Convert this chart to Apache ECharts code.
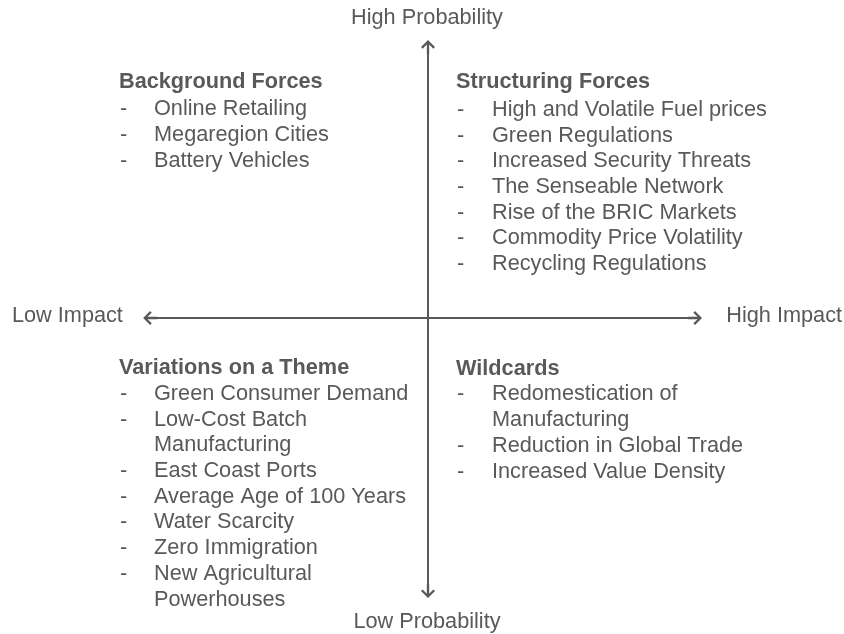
<!DOCTYPE html>
<html>
<head>
<meta charset="utf-8">
<script src="https://cdn.jsdelivr.net/npm/echarts@6/dist/echarts.min.js"></script>
<style>
    html, body { margin: 0; padding: 0; background: #fff; }
    #main { width: 844px; height: 634px; }
</style>
</head>
<body>
<div id="main"></div>
<script>
// axis end labels
var impactLabels = ['Low Impact', 'High Impact'];
var probabilityLabels = ['Low Probability', 'High Probability'];

// quadrant headings and items
var quadrantTitles = ['Background Forces', 'Structuring Forces', 'Variations on a Theme', 'Wildcards'];
var backgroundForces = ['Online Retailing', 'Megaregion Cities', 'Battery Vehicles'];
var structuringForces = ['High and Volatile Fuel prices', 'Green Regulations', 'Increased Security Threats',
    'The Senseable Network', 'Rise of the BRIC Markets', 'Commodity Price Volatility', 'Recycling Regulations'];
var variationsOnTheme = ['Green Consumer Demand', 'Low-Cost Batch\nManufacturing', 'East Coast Ports',
    'Average Age of 100 Years', 'Water Scarcity', 'Zero Immigration', 'New Agricultural\nPowerhouses'];
var wildcards = ['Redomestication of\nManufacturing', 'Reduction in Global Trade', 'Increased Value Density'];

// extent of the two arrows (impact on x, probability on y)
var impactArrow = [-0.996, 0.957];
var probabilityArrow = [-1.004, 0.996];

var chart = echarts.init(document.getElementById('main'));

var textColor = '#595959';
var fontFamily = '"Liberation Sans", Arial, sans-serif';
var fontSize = 21.7;
var lineH = 25.7;
// open arrow head with a short stem, tip at the top
var arrowHead = 'path://M6,0 L12,6 L10.6,7.4 L7,3.8 L7,12 L5,12 L5,3.8 L1.4,7.4 L0,6 Z';

function label(text, x, y, align) {
    return {
        type: 'text', x: x, y: y, silent: true,
        style: {
            text: text, fill: textColor, fontFamily: fontFamily, fontSize: fontSize,
            align: align, verticalAlign: 'middle'
        }
    };
}

// heading plus dashed list
function block(title, items, x, titleY, itemY, bulletX, itemX) {
    var els = [{
        type: 'text', x: x, y: titleY - lineH / 2, silent: true,
        style: {
            text: title, fill: textColor, fontFamily: fontFamily, fontSize: fontSize,
            fontWeight: 'bold', lineHeight: lineH, verticalAlign: 'top'
        }
    }];
    var y = itemY - lineH / 2;
    items.forEach(function (item) {
        els.push({
            type: 'text', x: bulletX, y: y, silent: true,
            style: { text: '-', fill: textColor, fontFamily: fontFamily, fontSize: fontSize, lineHeight: lineH, verticalAlign: 'top' }
        });
        els.push({
            type: 'text', x: itemX, y: y, silent: true,
            style: { text: item, fill: textColor, fontFamily: fontFamily, fontSize: fontSize, lineHeight: lineH, verticalAlign: 'top' }
        });
        y += lineH * item.split('\n').length;
    });
    return els;
}

var graphics = []
    .concat(block(quadrantTitles[0], backgroundForces, 119, 82.5, 109.5, 120, 154))
    .concat(block(quadrantTitles[1], structuringForces, 456, 82.5, 110, 457, 492))
    .concat(block(quadrantTitles[2], variationsOnTheme, 119, 368.5, 394, 120, 154))
    .concat(block(quadrantTitles[3], wildcards, 456, 369, 394.5, 457, 492))
    .concat([
        label(probabilityLabels[1], 427, 18.5, 'center'),
        label(probabilityLabels[0], 427, 622, 'center'),
        label(impactLabels[0], 12, 316, 'left'),
        label(impactLabels[1], 842, 316, 'right')
    ]);

var option = {
    backgroundColor: '#ffffff',
    animation: false,
    grid: { left: 149, right: 137, top: 46, bottom: 44 },
    xAxis: { type: 'value', min: -1, max: 1, show: false },
    yAxis: { type: 'value', min: -1, max: 1, show: false },
    graphic: graphics,
    series: [
        {
            type: 'lines',
            coordinateSystem: 'cartesian2d',
            silent: true,
            clip: false,
            symbol: [arrowHead, arrowHead],
            symbolSize: 14,
            lineStyle: { color: textColor, width: 2, opacity: 1, curveness: 0 },
            itemStyle: { color: textColor },
            data: [
                { coords: [[impactArrow[0], 0], [impactArrow[1], 0]] },
                { coords: [[0, probabilityArrow[0]], [0, probabilityArrow[1]]] }
            ]
        }
    ]
};

chart.setOption(option);
</script>
</body>
</html>
